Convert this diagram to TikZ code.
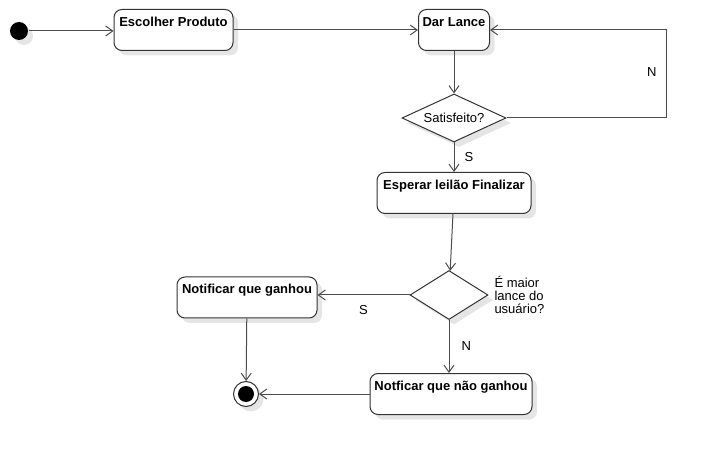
\documentclass[tikz,border=0pt]{standalone}
\usepackage{fontspec}
\setmainfont{Liberation Sans}
\usetikzlibrary{shapes.geometric,arrows.meta,shadows}

\tikzset{
  sombra/.style={drop shadow={shadow xshift=5pt,shadow yshift=-5pt,fill=black!10,opacity=1}},
  acao/.style={draw=black!80,fill=white,rounded corners=8pt,sombra,
    font=\fontsize{13}{13}\selectfont\bfseries,text height=13pt,text depth=20pt,inner xsep=4pt,inner ysep=4pt},
  decisao/.style={diamond,draw=black!80,fill=white,sombra,inner sep=0pt,aspect=2.2,font=\fontsize{13}{13}\selectfont},
  rotulo/.style={inner sep=2pt,font=\fontsize{13}{13}\selectfont},
  fluxo/.style={draw=black!70,-{Straight Barb[length=7pt,width=10pt]}}
}

\begin{document}
\begin{tikzpicture}[x=1pt,y=-1pt,line width=1pt]
  \useasboundingbox (0,0) rectangle (707,454);
  \node[circle,fill=black,minimum size=18pt,inner sep=0pt,sombra] (inicio) at (19,31) {};
  \node[acao,minimum width=119pt] (escolher) at (173.5,30) {Escolher Produto};
  \node[acao,minimum width=71pt] (lance) at (454,30) {Dar Lance};
  \node[decisao,minimum width=104pt,minimum height=48pt] (satisfeito) at (454,118) {Satisfeito?};
  \node[acao,minimum width=154pt] (esperar) at (454,193) {Esperar leilão Finalizar};
  \node[decisao,minimum width=78pt,minimum height=49pt] (maior) at (449,295) {};
  \node[rotulo,anchor=north west,align=left] (pergunta) at (492,274) {É maior\\lance do\\usuário?};
  \node[acao,minimum width=140pt] (ganhou) at (247,297.5) {Notificar que ganhou};
  \node[acao,minimum width=162pt] (naoganhou) at (451,394) {Notficar que não ganhou};
  \node[circle,draw=black!80,fill=white,minimum size=25pt,inner sep=0pt,sombra] (fim) at (246,394) {};
  \node[circle,fill=black,minimum size=16pt,inner sep=0pt] (fimmiolo) at (fim) {};
  \coordinate (volta) at (666,30);

  \path[fluxo]
    (inicio) edge (inicio -| escolher.west)
    (escolher) edge (lance)
    (lance) edge (satisfeito)
    (satisfeito) edge node[rotulo,right=8pt] {S} (esperar)
    (esperar) edge (maior)
    (maior) edge node[rotulo,below=8pt] {S} (maior -| ganhou.east)
    (maior) edge node[rotulo,right=10pt] {N} (maior |- naoganhou.north)
    (ganhou) edge (fim)
    (naoganhou) edge (fim);
  \draw[fluxo] (satisfeito.east) -| node[rotulo,pos=0.76,left=7pt] {N} (volta) -- (lance.east);
\end{tikzpicture}
\end{document}
